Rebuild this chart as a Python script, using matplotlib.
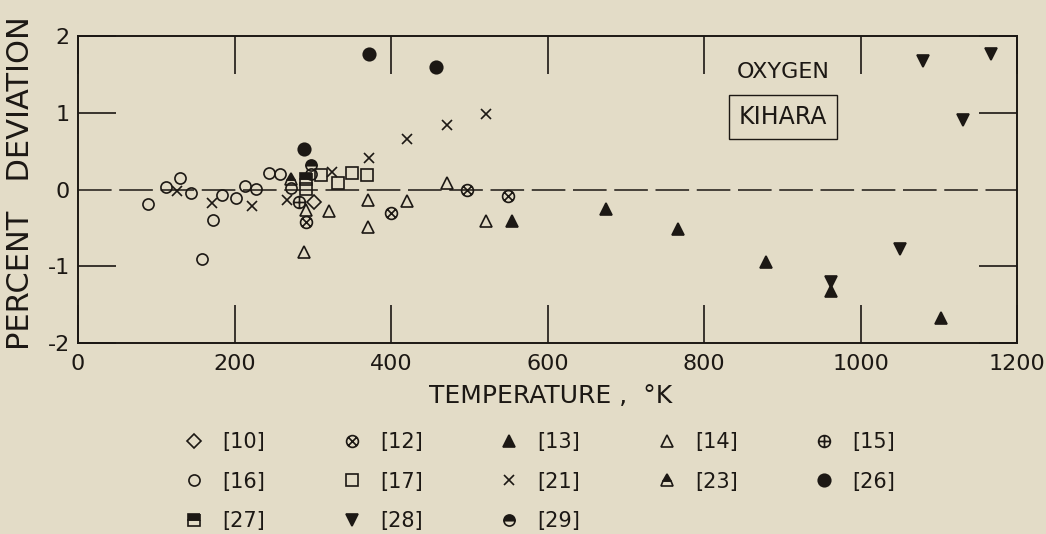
import matplotlib
matplotlib.use("Agg")
import matplotlib.pyplot as plt
from matplotlib.path import Path

# deviation (%) of measured viscosity from the Kihara-potential values, by reference
t10 = [301]
d10 = [-0.16]
t12 = [292, 400, 497, 549]
d12 = [-0.42, -0.30, 0.00, -0.09]
t13 = [555, 675, 767, 879, 962, 1103]
d13 = [-0.41, -0.25, -0.52, -0.94, -1.32, -1.68]
t14 = [289, 291, 321, 371, 371, 421, 471, 522]
d14 = [-0.81, -0.27, -0.28, -0.14, -0.49, -0.15, 0.08, -0.41]
t15 = [283]
d15 = [-0.16]
t16 = [90, 113, 130, 144, 158, 172, 184, 202, 214, 228, 244, 258, 272, 298]
d16 = [-0.19, 0.03, 0.15, -0.04, -0.90, -0.40, -0.07, -0.11, 0.04, 0.01, 0.21, 0.20, 0.02, 0.20]
t17 = [291, 311, 332, 350, 369]
d17 = [0.01, 0.19, 0.09, 0.22, 0.19]
t21 = [126, 171, 222, 267, 324, 372, 421, 472, 522]
d21 = [-0.02, -0.18, -0.22, -0.14, 0.23, 0.41, 0.66, 0.84, 0.98]
t23 = [272]
d23 = [0.14]
t26 = [289, 372, 458]
d26 = [0.53, 1.77, 1.60]
t27 = [291]
d27 = [0.14]
t28 = [962, 1051, 1080, 1131, 1167]
d28 = [-1.20, -0.77, 1.67, 0.90, 1.77]
t29 = [298]
d29 = [0.32]

x_ticks = [0, 200, 400, 600, 800, 1000, 1200]
y_ticks = [-2, -1, 0, 1, 2]

INK = "#1c1814"
PAPER = "#e3dcc7"

# circle with an x / with a plus inside
_c = Path.unit_circle()
_d = 0.70
otimes = Path.make_compound_path(_c, Path([(-_d, -_d), (_d, _d)]), Path([(-_d, _d), (_d, -_d)]))
oplus = Path.make_compound_path(_c, Path([(-1, 0), (1, 0)]), Path([(0, -1), (0, 1)]))

series = [
    ("[10]", t10, d10, dict(marker="D", ms=7, mfc="none")),
    ("[12]", t12, d12, dict(marker=otimes, ms=8.5, mfc="none")),
    ("[13]", t13, d13, dict(marker="^", ms=9, mfc=INK)),
    ("[14]", t14, d14, dict(marker="^", ms=9, mfc="none")),
    ("[15]", t15, d15, dict(marker=oplus, ms=8.5, mfc="none")),
    ("[16]", t16, d16, dict(marker="o", ms=8, mfc="none")),
    ("[17]", t17, d17, dict(marker="s", ms=8, mfc="none")),
    ("[21]", t21, d21, dict(marker="x", ms=7)),
    ("[23]", t23, d23, dict(marker="^", ms=9, mfc=INK, fillstyle="top", markerfacecoloralt="none")),
    ("[26]", t26, d26, dict(marker="o", ms=9, mfc=INK)),
    ("[27]", t27, d27, dict(marker="s", ms=8, mfc=INK, fillstyle="top", markerfacecoloralt="none")),
    ("[28]", t28, d28, dict(marker="v", ms=9, mfc=INK)),
    ("[29]", t29, d29, dict(marker="o", ms=8, mfc=INK, fillstyle="top", markerfacecoloralt="none")),
]

plt.rcParams["font.family"] = "DejaVu Sans"

fig = plt.figure(figsize=(10.46, 5.34), dpi=100, facecolor=PAPER)
ax = fig.add_axes([78 / 1046, 1 - 343 / 534, 939 / 1046, 307 / 534])
ax.set_facecolor(PAPER)

ax.axhline(0, color=INK, lw=1.1, ls=(0, (22, 5)), zorder=1)

handles = {}
for name, t, d, style in series:
    ln, = ax.plot(t, d, ls="none", color=INK, mec=INK, mew=1.2, label=name, zorder=3, **style)
    handles[name] = ln

ax.set_xlim(0, 1200)
ax.set_ylim(-2, 2)
ax.set_xticks(x_ticks)
ax.set_yticks(y_ticks)
ax.set_yticklabels([str(v) for v in y_ticks])
ax.tick_params(direction="in", length=27.5, width=1.2, color=INK, labelcolor=INK,
               top=True, right=True, labelsize=16)
ax.tick_params(axis="x", pad=8)
ax.tick_params(axis="y", pad=6)
# no tick mark on the zero line
zero_tick = ax.yaxis.get_major_ticks()[2]
zero_tick.tick1line.set_visible(False)
zero_tick.tick2line.set_visible(False)
for sp in ax.spines.values():
    sp.set_linewidth(1.4)
    sp.set_color(INK)

ax.set_xlabel("TEMPERATURE ,  °K", fontsize=18, color=INK)
ax.xaxis.set_label_coords(0.503, -0.135)
ax.set_ylabel("PERCENT   DEVIATION", fontsize=22, color=INK)
ax.yaxis.set_label_coords(-0.046, 0.52)

ax.text(901, 1.53, "OXYGEN", fontsize=16, color=INK, ha="center", va="center")
ax.text(901, 0.94, "KIHARA", fontsize=17, color=INK, ha="center", va="center",
        bbox=dict(boxstyle="square,pad=0.42", fc="none", ec=INK, lw=1.0))

# legend fills column by column: three rows, five columns
order = ["[10]", "[16]", "[27]", "[12]", "[17]", "[28]", "[13]", "[21]", "[29]",
         "[14]", "[23]", "[15]", "[26]"]
ax.legend([handles[k] for k in order], order, ncol=5, frameon=False, fontsize=15,
          loc="upper left", bbox_to_anchor=(184 / 1046, 1 - 432 / 534),
          bbox_transform=fig.transFigure, borderpad=0, borderaxespad=0,
          handlelength=1.0, handletextpad=0.85, columnspacing=3.65, labelspacing=0.94,
          labelcolor=INK)

fig.savefig("out.png", dpi=100, facecolor=PAPER)
